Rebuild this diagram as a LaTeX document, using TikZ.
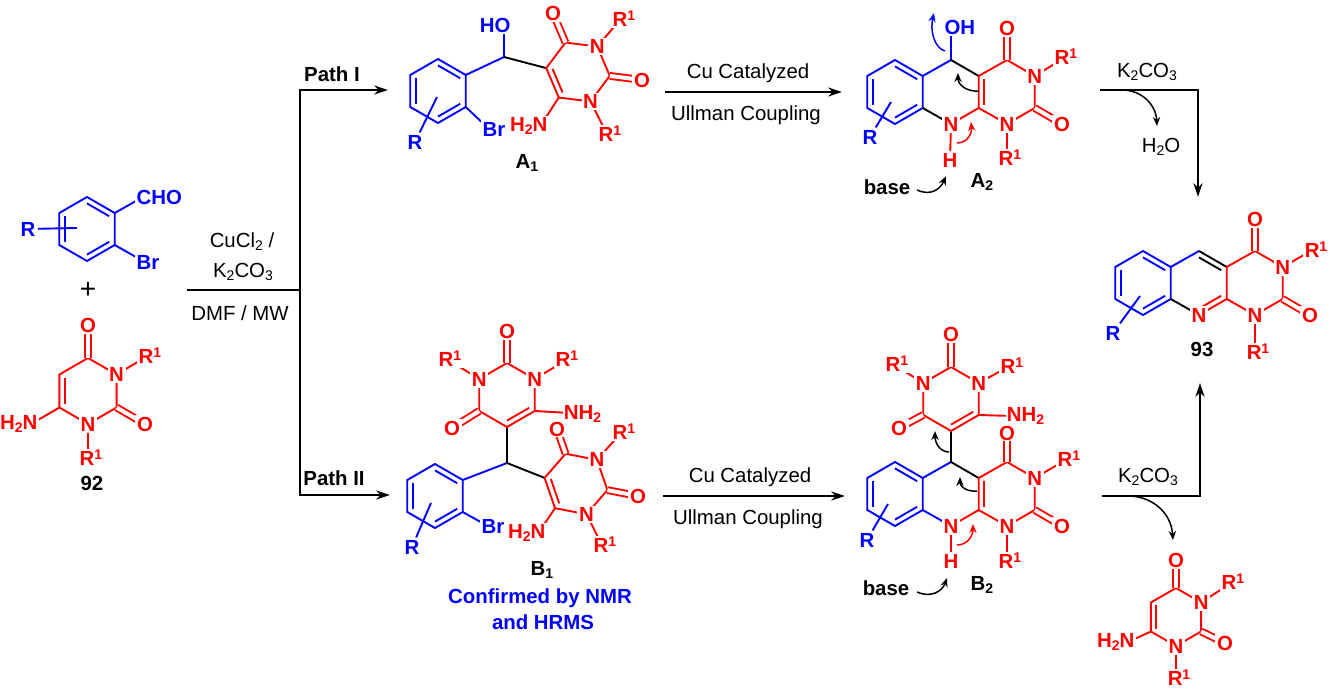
\documentclass[tikz,border=0pt]{standalone}
\usepackage{fontspec}
\setmainfont{Liberation Sans}
\usetikzlibrary{calc,arrows.meta}
\definecolor{cb}{RGB}{0,0,255}
\definecolor{cr}{RGB}{255,0,0}
\newcommand{\hexa}[5]{%
  \coordinate (#1c) at (#2,#3);
  \foreach \k in {1,...,6}{\coordinate (#1\k) at ($(#2,#3)+({#4+60*(\k-1)}:#5)$);}}
\newcommand{\innerb}[4]{\draw[#4] ($(#1)!.2!(#3)$) -- ($(#2)!.2!(#3)$);}
\newcommand{\sbs}[1]{\raisebox{-1.6pt}{\fontsize{7}{7}\selectfont #1}}
\newcommand{\sps}[1]{\raisebox{3pt}{\fontsize{7}{7}\selectfont #1}}
\newcommand{\Rone}{R\sps{1}}
\begin{document}
\begin{tikzpicture}[x=0.5pt,y=-0.5pt,line width=0.95pt,
  atm/.style={font=\bfseries\fontsize{10.2}{12}\selectfont,fill=white,inner sep=0.8pt},
  txt/.style={font=\fontsize{10.2}{12}\selectfont,inner sep=1pt},
  lbl/.style={font=\bfseries\fontsize{10.2}{12}\selectfont,inner sep=1pt},
  dbo/.style={double,double distance=2pt},
  rxn/.style={-{Stealth[length=7pt,width=4.6pt]}},
  rxnb/.style={{Stealth[length=7pt,width=4.6pt]}-{Stealth[length=7pt,width=4.6pt]}},
  mech/.style={-{Stealth[length=4.5pt,width=3.6pt]},line width=0.75pt}]
\useasboundingbox (0,0) rectangle (1335,690);

% ================= 92 =================
\hexa{p}{87}{229}{-90}{32}
\draw[cb] (p1)--(p2)--(p3)--(p4)--(p5)--(p6)--cycle;
\innerb{p1}{p2}{pc}{cb}\innerb{p3}{p4}{pc}{cb}\innerb{p5}{p6}{pc}{cb}
\coordinate (pC) at (143,197); \coordinate (pB) at (143,261); \coordinate (pRi) at (77,228);
\draw[cb] (p2)--(pC); \draw[cb] (p3)--(pB);
\node[atm,text=cb] (pR) at (28,229) {R};
\draw[cb] (pR)--(pRi);
\node[atm,text=cb,anchor=west] (pCHO) at (134,197) {CHO};
\node[atm,text=cb,anchor=west] (pBr) at (134,262) {Br};
\node[font=\fontsize{14}{14}\selectfont,inner sep=0pt] (plus) at (88,290) {+};

\hexa{u}{88}{391}{-90}{33}
\draw[cr] (u1)--(u2)--(u3)--(u4)--(u5)--(u6)--cycle;
\innerb{u6}{u5}{uc}{cr}
\coordinate (uO4) at (88,325); \coordinate (uO2) at (145,424); \coordinate (uR3) at (146,357);
\coordinate (uR1) at (88,457); \coordinate (uN6) at (31,424);
\draw[cr,dbo] (u1)--(uO4); \draw[cr,dbo] (u3)--(uO2);
\draw[cr] (u2)--(uR3) (u4)--(uR1) (u5)--(uN6);
\node[atm,text=cr] (uN3) at (u2) {N};
\node[atm,text=cr] (uN1) at (u4) {N};
\node[atm,text=cr] (uOa) at (uO4) {O};
\node[atm,text=cr] (uOb) at (uO2) {O};
\node[atm,text=cr] (uRa) at (150,356) {\Rone};
\node[atm,text=cr] (uRb) at (91,458) {\Rone};
\node[atm,text=cr,anchor=east] (uNH) at (40,424) {H\sbs{2}N};
\node[lbl] (l92) at (92,483) {92};

% ================= conditions / branching =================
\coordinate (cL) at (187,290); \coordinate (cJ) at (300,290);
\draw (cL)--(cJ);
\node[txt] (tCu) at (242,242) {CuCl\sbs{2} /};
\node[txt] (tK) at (243,272) {K\sbs{2}CO\sbs{3}};
\node[txt] (tD) at (240,313) {DMF / MW};
\coordinate (vT) at (300,90); \coordinate (vB) at (300,495);
\coordinate (pI) at (388,90); \coordinate (pII) at (390,495);
\draw[rxnb] (pI)--(vT)--(vB)--(pII);
\node[lbl] (tP1) at (332,74) {Path I};
\node[lbl] (tP2) at (334,478) {Path II};

% ================= A1 =================
\hexa{a}{438}{91}{-90}{32}
\draw[cb] (a1)--(a2)--(a3)--(a4)--(a5)--(a6)--cycle;
\innerb{a1}{a2}{ac}{cb}\innerb{a3}{a4}{ac}{cb}\innerb{a5}{a6}{ac}{cb}
\coordinate (aCH) at (504,57); \coordinate (aO) at (504,25); \coordinate (aB) at (488,128); \coordinate (aRi) at (437,97);
\draw[cb] (a2)--(aCH)--(aO); \draw[cb] (a3)--(aB);
\hexa{v}{578}{72}{187}{32}
\draw (aCH)--(v1);
\draw[cr] (v1)--(v2)--(v3)--(v4)--(v5)--(v6)--cycle;
\innerb{v1}{v6}{vc}{cr}
\coordinate (vO4) at (553,13); \coordinate (vO2) at (642,80); \coordinate (vR3) at (620,20);
\coordinate (vR1) at (607,134); \coordinate (vN6) at (541,125);
\draw[cr,dbo] (v2)--(vO4); \draw[cr,dbo] (v4)--(vO2);
\draw[cr] (v3)--(vR3) (v5)--(vR1) (v6)--(vN6);
\node[atm,text=cb,anchor=east] (aHO) at (513,25) {HO};
\node[atm,text=cb,anchor=west] (aBr) at (480,129) {Br};
\node[atm,text=cb] (aR) at (415,142) {R};
\draw[cb] (aR)--(aRi);
\node[atm,text=cr] (vN3) at (v3) {N};
\node[atm,text=cr] (vN1) at (v5) {N};
\node[atm,text=cr] (vOa) at (vO4) {O};
\node[atm,text=cr] (vOb) at (vO2) {O};
\node[atm,text=cr] (vRa) at (624,19) {\Rone};
\node[atm,text=cr] (vRb) at (610,134) {\Rone};
\node[atm,text=cr,anchor=east] (vNH) at (550,126) {H\sbs{2}N};
\node[lbl] (lA1) at (527,163) {A\sbs{1}};

% A1 -> A2
\coordinate (r1s) at (665,92); \coordinate (r1e) at (842,92);
\draw[rxn] (r1s)--(r1e);
\node[txt] (tCa1) at (748,73) {Cu Catalyzed};
\node[txt] (tUl1) at (746,115) {Ullman Coupling};

% ================= A2 =================
\hexa{b}{895}{92}{-90}{32}
\hexa{c}{951}{92}{-90}{32}
\hexa{d}{1007}{92}{-90}{32}
\draw[cb] (b1)--(b2)--(b3)--(b4)--(b5)--(b6)--cycle;
\innerb{b1}{b2}{bc}{cb}\innerb{b3}{b4}{bc}{cb}\innerb{b5}{b6}{bc}{cb}
\coordinate (cO) at (951,28);
\draw[cb] (b2)--(c1)--(cO);
\draw (c1)--(c2); \draw (b3)--(c4);
\draw[cr] (c2)--(c3)--(c4);
\innerb{c2}{c3}{dc}{cr}
\draw[cr] (c2)--(d1)--(d2)--(d3)--(d4)--(c3);
\coordinate (dO4) at (1007,28); \coordinate (dO2) at (1062,124); \coordinate (dR3) at (1061,60);
\coordinate (dR1) at (1007,157); \coordinate (cH) at (950,160); \coordinate (bRi) at (891,102);
\draw[cr,dbo] (d1)--(dO4); \draw[cr,dbo] (d3)--(dO2);
\draw[cr] (d2)--(dR3) (d4)--(dR1) (c4)--(cH);
\node[atm,text=cb,anchor=west] (cOH) at (942,27) {OH};
\node[atm,text=cb] (bR) at (870,137) {R};
\draw[cb] (bR)--(bRi);
\node[atm,text=cr] (cN) at (c4) {N};
\node[atm,text=cr] (cHn) at (cH) {H};
\node[atm,text=cr] (dN3) at (d2) {N};
\node[atm,text=cr] (dN1) at (d4) {N};
\node[atm,text=cr] (dOa) at (dO4) {O};
\node[atm,text=cr] (dOb) at (dO2) {O};
\node[atm,text=cr] (dRa) at (1066,57) {\Rone};
\node[atm,text=cr] (dRb) at (1010,158) {\Rone};
\node[lbl] (tbase1) at (887,187) {base};
\node[lbl] (lA2) at (982,182) {A\sbs{2}};
\draw[mech,cb] (945,51) .. controls (934,48) and (930,30) .. (934,13);
\draw[mech] (979,91) .. controls (967,92) and (958,85) .. (958,73);
\draw[mech,cr] (957,143) .. controls (968,143) and (972,133) .. (971,122);
\draw[mech] (917,190) .. controls (930,196) and (940,190) .. (946,176);

% A2 -> 93
\coordinate (tr1) at (1100,90); \coordinate (tr2) at (1198,90); \coordinate (tr3) at (1198,197);
\draw[rxn] (tr1)--(tr2)--(tr3);
\node[txt] (tK2) at (1147,72) {K\sbs{2}CO\sbs{3}};
\node[txt] (tH2O) at (1161,147) {H\sbs{2}O};
\draw[mech] (1122,90) .. controls (1142,90) and (1156,105) .. (1157,126);

% ================= 93 =================
\hexa{e}{1143}{283}{-90}{32}
\hexa{f}{1199}{283}{-90}{32}
\hexa{g}{1255}{283}{-90}{32}
\draw[cb] (e1)--(e2)--(e3)--(e4)--(e5)--(e6)--cycle;
\innerb{e1}{e2}{ec}{cb}\innerb{e3}{e4}{ec}{cb}\innerb{e5}{e6}{ec}{cb}
\draw[cb] (e2)--(f1);
\draw (f1)--(f2); \innerb{f1}{f2}{fc}{black}
\draw (f4)--(e3);
\draw[cr] (f2)--(f3)--(f4); \innerb{f3}{f4}{fc}{cr}
\draw[cr] (f2)--(g1)--(g2)--(g3)--(g4)--(f3);
\coordinate (gO4) at (1255,219); \coordinate (gO2) at (1310,315); \coordinate (gR3) at (1311,251);
\coordinate (gR1) at (1255,348); \coordinate (eRi) at (1140,296);
\draw[cr,dbo] (g1)--(gO4); \draw[cr,dbo] (g3)--(gO2);
\draw[cr] (g2)--(gR3) (g4)--(gR1);
\node[atm,text=cb] (eR) at (1113,333) {R};
\draw[cb] (eR)--(eRi);
\node[atm,text=cr] (fN) at (f4) {N};
\node[atm,text=cr] (gN3) at (g2) {N};
\node[atm,text=cr] (gN1) at (g4) {N};
\node[atm,text=cr] (gOa) at (gO4) {O};
\node[atm,text=cr] (gOb) at (gO2) {O};
\node[atm,text=cr] (gRa) at (1316,250) {\Rone};
\node[atm,text=cr] (gRb) at (1258,352) {\Rone};
\node[lbl] (l93) at (1202,349) {93};

% B2 -> 93
\coordinate (br1) at (1102,496); \coordinate (br2) at (1200,496); \coordinate (br3) at (1200,383);
\draw[rxn] (br1)--(br2)--(br3);
\node[txt] (tK3) at (1148,477) {K\sbs{2}CO\sbs{3}};
\draw[mech] (1130,496) .. controls (1152,497) and (1171,512) .. (1173,540);

% ================= by-product uracil =================
\hexa{h}{1176}{617}{-90}{29}
\draw[cr] (h1)--(h2)--(h3)--(h4)--(h5)--(h6)--cycle;
\innerb{h6}{h5}{hc}{cr}
\coordinate (hO4) at (1176,560); \coordinate (hO2) at (1225,643); \coordinate (hR3) at (1228,585);
\coordinate (hR1) at (1176,676); \coordinate (hN6) at (1128,642);
\draw[cr,dbo] (h1)--(hO4); \draw[cr,dbo] (h3)--(hO2);
\draw[cr] (h2)--(hR3) (h4)--(hR1) (h5)--(hN6);
\node[atm,text=cr] (hN3) at (h2) {N};
\node[atm,text=cr] (hN1) at (h4) {N};
\node[atm,text=cr] (hOa) at (hO4) {O};
\node[atm,text=cr] (hOb) at (hO2) {O};
\node[atm,text=cr] (hRa) at (1233,582) {\Rone};
\node[atm,text=cr] (hRb) at (1179,678) {\Rone};
\node[atm,text=cr,anchor=east] (hNH) at (1137,642) {H\sbs{2}N};

% ================= B1 =================
\hexa{k}{435}{496}{-90}{32}
\hexa{m}{507}{395}{-90}{32}
\hexa{w}{576}{484}{191}{32}
\draw[cb] (k1)--(k2)--(k3)--(k4)--(k5)--(k6)--cycle;
\innerb{k1}{k2}{kc}{cb}\innerb{k3}{k4}{kc}{cb}\innerb{k5}{k6}{kc}{cb}
\coordinate (kCH) at (507,463); \coordinate (kB) at (488,526); \coordinate (kRi) at (431,503);
\draw[cb] (k2)--(kCH); \draw[cb] (k3)--(kB);
\draw (kCH)--(m4); \draw (kCH)--(w1);
\draw[cr] (m1)--(m2)--(m3)--(m4)--(m5)--(m6)--cycle;
\innerb{m4}{m3}{mc}{cr}
\coordinate (mO2) at (507,331); \coordinate (mO4) at (452,428); \coordinate (mR3) at (450,361);
\coordinate (mR1) at (563,362); \coordinate (mN6) at (570,413);
\draw[cr,dbo] (m1)--(mO2); \draw[cr,dbo] (m5)--(mO4);
\draw[cr] (m6)--(mR3) (m2)--(mR1) (m3)--(mN6);
\draw[cr] (w1)--(w2)--(w3)--(w4)--(w5)--(w6)--cycle;
\innerb{w1}{w6}{wc}{cr}
\coordinate (wO4) at (557,429); \coordinate (wO2) at (638,496); \coordinate (wR3) at (620,434);
\coordinate (wR1) at (602,545); \coordinate (wN6) at (539,532);
\draw[cr,dbo] (w2)--(wO4); \draw[cr,dbo] (w4)--(wO2);
\draw[cr] (w3)--(wR3) (w5)--(wR1) (w6)--(wN6);
\node[atm,text=cb,anchor=west] (kBr) at (479,526) {Br};
\node[atm,text=cb] (kR) at (412,547) {R};
\draw[cb] (kR)--(kRi);
\node[atm,text=cr] (mNa) at (m2) {N};
\node[atm,text=cr] (mNb) at (m6) {N};
\node[atm,text=cr] (mOa) at (mO2) {O};
\node[atm,text=cr] (mOb) at (mO4) {O};
\node[atm,text=cr] (mRa) at (450,359) {\Rone};
\node[atm,text=cr] (mRb) at (567,359) {\Rone};
\node[atm,text=cr,anchor=west,text depth=0pt,inner sep=0.5pt] (mNH) at (562,412) {NH\sbs{2}};
\node[atm,text=cr] (wN3) at (w3) {N};
\node[atm,text=cr] (wN1) at (w5) {N};
\node[atm,text=cr,inner sep=0.5pt] (wOa) at (wO4) {O};
\node[atm,text=cr] (wOb) at (wO2) {O};
\node[atm,text=cr] (wRa) at (624,432) {\Rone};
\node[atm,text=cr] (wRb) at (605,545) {\Rone};
\node[atm,text=cr,anchor=east] (wNH) at (548,533) {H\sbs{2}N};
\node[lbl] (lB1) at (542,570) {B\sbs{1}};
\node[lbl,text=cb] (tConf) at (540,598) {Confirmed by NMR};
\node[lbl,text=cb] (tHR) at (543,622) {and HRMS};

% B1 -> B2
\coordinate (r2s) at (663,496); \coordinate (r2e) at (845,496);
\draw[rxn] (r2s)--(r2e);
\node[txt] (tCa2) at (750,477) {Cu Catalyzed};
\node[txt] (tUl2) at (748,519) {Ullman Coupling};

% ================= B2 =================
\hexa{n}{895}{494}{-90}{32}
\hexa{o}{951}{494}{-90}{32}
\hexa{q}{1007}{494}{-90}{32}
\hexa{s}{951}{399}{-90}{32}
\draw[cb] (n1)--(n2)--(n3)--(n4)--(n5)--(n6)--cycle;
\innerb{n1}{n2}{nc}{cb}\innerb{n3}{n4}{nc}{cb}\innerb{n5}{n6}{nc}{cb}
\draw[cb] (n2)--(o1); \draw[cb] (n3)--(o4);
\draw (o1)--(o2); \draw (o1)--(s4);
\draw[cr] (o2)--(o3)--(o4);
\innerb{o2}{o3}{qc}{cr}
\draw[cr] (o2)--(q1)--(q2)--(q3)--(q4)--(o3);
\coordinate (qO4) at (1007,433); \coordinate (qO2) at (1062,526); \coordinate (qR3) at (1064,461);
\coordinate (qR1) at (1007,560); \coordinate (oH) at (951,561); \coordinate (nRi) at (888,504);
\draw[cr,dbo] (q1)--(qO4); \draw[cr,dbo] (q3)--(qO2);
\draw[cr] (q2)--(qR3) (q4)--(qR1) (o4)--(oH);
\draw[cr] (s1)--(s2)--(s3)--(s4)--(s5)--(s6)--cycle;
\innerb{s4}{s3}{sc}{cr}
\coordinate (sO2) at (951,334); \coordinate (sO4) at (899,428); \coordinate (sR3) at (896,366);
\coordinate (sR1) at (1008,367); \coordinate (sN6) at (1012,416);
\draw[cr,dbo] (s1)--(sO2); \draw[cr,dbo] (s5)--(sO4);
\draw[cr] (s6)--(sR3) (s2)--(sR1) (s3)--(sN6);
\node[atm,text=cb] (nR) at (867,540) {R};
\draw[cb] (nR)--(nRi);
\node[atm,text=cr] (oN) at (o4) {N};
\node[atm,text=cr] (oHn) at (oH) {H};
\node[atm,text=cr] (qN3) at (q2) {N};
\node[atm,text=cr] (qN1) at (q4) {N};
\node[atm,text=cr] (qOb) at (qO2) {O};
\node[atm,text=cr] (qRa) at (1069,459) {\Rone};
\node[atm,text=cr] (qRb) at (1010,561) {\Rone};
\node[atm,text=cr] (sNa) at (s2) {N};
\node[atm,text=cr] (sNb) at (s6) {N};
\node[atm,text=cr] (sOa) at (sO2) {O};
\node[atm,text=cr] (sOb) at (sO4) {O};
\node[atm,text=cr] (sRa) at (897,364) {\Rone};
\node[atm,text=cr] (sRb) at (1012,366) {\Rone};
\node[atm,text=cr,anchor=west,text depth=0pt,inner sep=0.5pt] (sNH) at (1005,414) {NH\sbs{2}};
\node[atm,text=cr,inner sep=0.3pt] (qOa) at (qO4) {O};
\node[lbl] (tbase2) at (886,588) {base};
\node[lbl] (lB2) at (982,585) {B\sbs{2}};
\draw[mech] (949,452) .. controls (940,452) and (935,443) .. (935,431);
\draw[mech] (977,491) .. controls (966,492) and (960,486) .. (960,477);
\draw[mech,cr] (957,545) .. controls (968,545) and (973,535) .. (973,524);
\draw[mech] (917,592) .. controls (930,598) and (942,592) .. (947,578);
\end{tikzpicture}
\end{document}
